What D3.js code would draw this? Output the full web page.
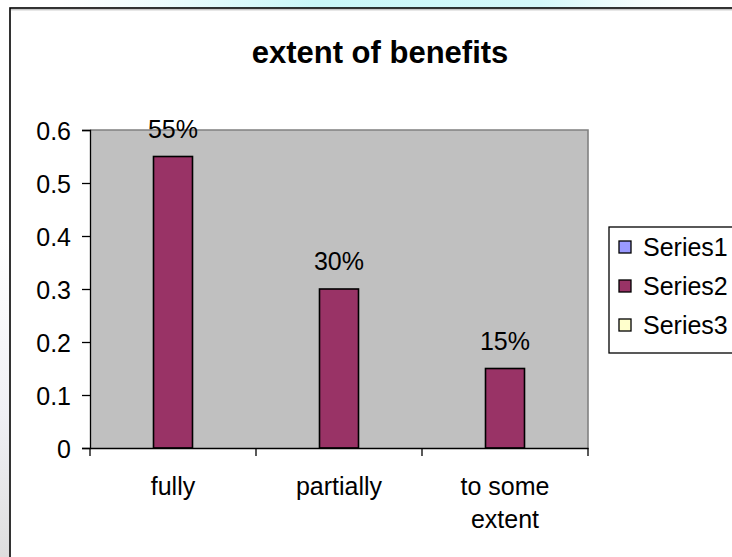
<!DOCTYPE html>
<html>
<head>
<meta charset="utf-8">
<script src="https://cdn.jsdelivr.net/npm/d3@7"></script>
<style>
  html, body { margin: 0; padding: 0; background: #ffffff; }
  svg { display: block; font-family: Arial, "Liberation Sans", sans-serif; }
</style>
</head>
<body>
<svg id="chart" width="732" height="557"></svg>
<script>
// Chart data
const categories = [["fully"], ["partially"], ["to some", "extent"]];
const categoryKeys = ["fully", "partially", "to some extent"];
const series2Values = [0.55, 0.30, 0.15];
const valueLabels = ["55%", "30%", "15%"];
const yTicks = [0, 0.1, 0.2, 0.3, 0.4, 0.5, 0.6];
const legendNames = ["Series1", "Series2", "Series3"];
const legendColors = ["#9999ff", "#993366", "#ffffcc"];
const title = "extent of benefits";

const svg = d3.select("#chart");
const FS = 25;

// soft backdrop strip above the frame
const defs = svg.append("defs");
const grad = defs.append("linearGradient").attr("id", "topStrip");
grad.append("stop").attr("offset", "0%").attr("stop-color", "#ffffff");
grad.append("stop").attr("offset", "15%").attr("stop-color", "#eefcfd");
grad.append("stop").attr("offset", "40%").attr("stop-color", "#c9f7f8");
grad.append("stop").attr("offset", "75%").attr("stop-color", "#d4f8fa");
grad.append("stop").attr("offset", "90%").attr("stop-color", "#f4fdfd");
grad.append("stop").attr("offset", "100%").attr("stop-color", "#ffffff");
svg.append("rect").attr("x", 60).attr("y", 0).attr("width", 640).attr("height", 8)
  .attr("fill", "url(#topStrip)");
const gradL = defs.append("linearGradient").attr("id", "leftStrip")
  .attr("x1", 0).attr("y1", 0).attr("x2", 0).attr("y2", 1);
gradL.append("stop").attr("offset", "0%").attr("stop-color", "#ffffff");
gradL.append("stop").attr("offset", "55%").attr("stop-color", "#f0f0f5");
gradL.append("stop").attr("offset", "100%").attr("stop-color", "#dedede");
svg.append("rect").attr("x", 0).attr("y", 240).attr("width", 9).attr("height", 317)
  .attr("fill", "url(#leftStrip)");

// chart frame (continues past the right and bottom edges)
svg.append("rect").attr("x", 10).attr("y", 8).attr("width", 740).attr("height", 560)
  .attr("fill", "#ffffff").attr("stroke", "#000000").attr("stroke-width", 1.6);
svg.append("line").attr("x1", 11).attr("x2", 732).attr("y1", 9.8).attr("y2", 9.8)
  .attr("stroke", "#b0b0b0").attr("stroke-width", 1);

// title
svg.append("text").attr("x", 380).attr("y", 63)
  .attr("text-anchor", "middle").attr("font-size", 31).attr("font-weight", "bold")
  .attr("fill", "#000").text(title);

// plot area
const plot = { left: 90, right: 588, top: 130, bottom: 448 };
const x = d3.scaleBand().domain(categoryKeys).range([plot.left, plot.right]).paddingInner(0).paddingOuter(0);
const y = d3.scaleLinear().domain([0, 0.6]).range([plot.bottom, plot.top]);

svg.append("rect").attr("x", plot.left).attr("y", plot.top)
  .attr("width", plot.right - plot.left).attr("height", plot.bottom - plot.top)
  .attr("fill", "#c0c0c0");
svg.append("path")
  .attr("d", `M${plot.left},${plot.top}H${plot.right}V${plot.bottom}`)
  .attr("fill", "none").attr("stroke", "#808080").attr("stroke-width", 1.6);

// bars
const barW = 39;
svg.append("g").selectAll("rect").data(series2Values).join("rect")
  .attr("x", (d, i) => x(categoryKeys[i]) + x.bandwidth() / 2 - barW / 2)
  .attr("y", d => y(d))
  .attr("width", barW)
  .attr("height", d => y(0) - y(d))
  .attr("fill", "#993366").attr("stroke", "#000").attr("stroke-width", 1.6);

// value labels
svg.append("g").selectAll("text").data(series2Values).join("text")
  .attr("x", (d, i) => x(categoryKeys[i]) + x.bandwidth() / 2)
  .attr("y", d => y(d) - 19)
  .attr("text-anchor", "middle").attr("font-size", FS).attr("fill", "#000")
  .text((d, i) => valueLabels[i]);

// y axis
const yAxis = d3.axisLeft(y).tickValues(yTicks).tickSize(8).tickPadding(11)
  .tickFormat(d => d === 0 ? "0" : d3.format(".1f")(d));
const gy = svg.append("g").attr("transform", `translate(${plot.left},0)`).call(yAxis);
gy.select(".domain").attr("stroke", "#000").attr("stroke-width", 1.3);
gy.selectAll(".tick line").attr("stroke", "#000").attr("stroke-width", 1.3);
gy.selectAll(".tick text").attr("font-size", FS).attr("font-family", "Arial, 'Liberation Sans', sans-serif")
  .attr("fill", "#000").attr("dy", "0.36em");

// x axis
const xAxis = d3.axisBottom(x).tickSize(0).tickFormat("");
const gx = svg.append("g").attr("transform", `translate(0,${plot.bottom})`).call(xAxis);
gx.select(".domain").attr("stroke", "#000").attr("stroke-width", 1.6);
const bounds = categoryKeys.map(k => x(k)).concat([x(categoryKeys[categoryKeys.length - 1]) + x.bandwidth()]);
gx.selectAll(".boundary").data(bounds).join("line").attr("class", "boundary")
  .attr("x1", d => d).attr("x2", d => d).attr("y1", 0).attr("y2", 8)
  .attr("stroke", "#000").attr("stroke-width", 1.3);

// category labels
const catG = svg.append("g").selectAll("text").data(categories).join("text")
  .attr("text-anchor", "middle").attr("font-size", FS).attr("fill", "#000")
  .attr("transform", (d, i) => `translate(${x(categoryKeys[i]) + x.bandwidth() / 2},495)`);
catG.selectAll("tspan").data(d => d).join("tspan")
  .attr("x", 0).attr("y", (d, j) => j * 33).text(d => d);

// legend
const lg = svg.append("g").attr("transform", "translate(609,227)");
lg.append("rect").attr("x", 0).attr("y", 0).attr("width", 140).attr("height", 126)
  .attr("fill", "#ffffff").attr("stroke", "#000").attr("stroke-width", 1.3);
const item = lg.selectAll("g.item").data(legendNames).join("g").attr("class", "item")
  .attr("transform", (d, i) => `translate(0,${20 + i * 39})`);
item.append("rect").attr("x", 10).attr("y", -6).attr("width", 12).attr("height", 12)
  .attr("fill", (d, i) => legendColors[i]).attr("stroke", "#000").attr("stroke-width", 1.3);
item.append("text").attr("x", 34).attr("y", 0).attr("dy", "0.36em")
  .attr("font-size", FS).attr("fill", "#000").text(d => d);
</script>
</body>
</html>
